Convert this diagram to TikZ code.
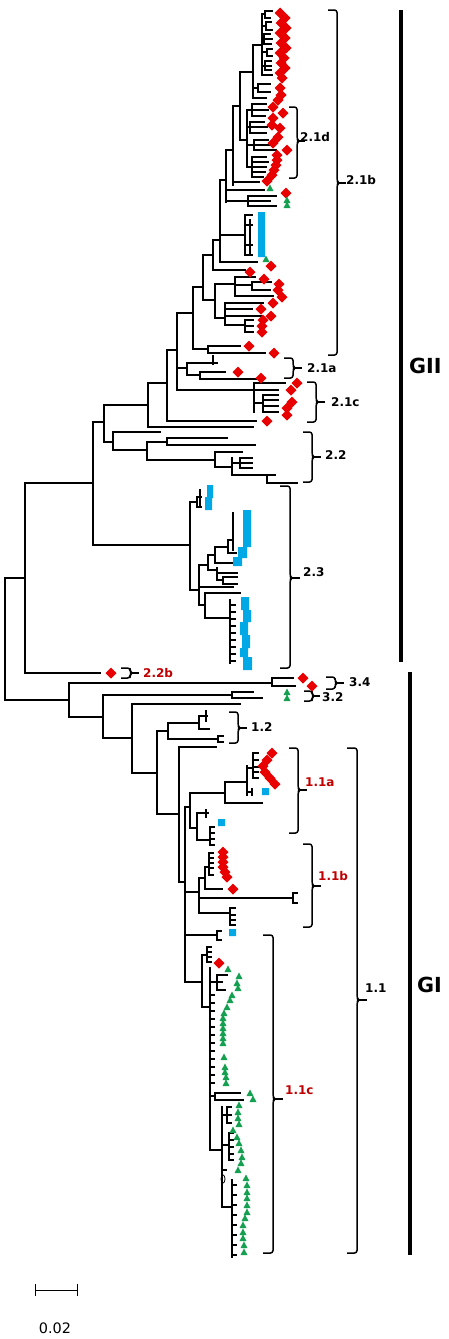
\documentclass[tikz,border=0pt]{standalone}
\usepackage{fontspec}
\setmainfont{DejaVu Sans}
\definecolor{dmdred}{RGB}{232,0,0}
\definecolor{sqblue}{RGB}{0,168,230}
\definecolor{trigreen}{RGB}{20,160,80}
\definecolor{labred}{RGB}{192,0,0}
% clade bracket: x, top, bottom, middle, stub
\newcommand{\cladebr}[5]{%
  \draw[brk] (#1-#5,#2) -- (#1,#2) -- (#1,#4-2) -- (#1+2,#4) -- (#1,#4+2) -- (#1,#3) -- (#1-#5,#3);
  \draw[brk] (#1+1,#4) -- (#1+#5,#4);}
\tikzset{
  tree/.style={line width=1.2pt, line cap=rect},
  brk/.style={line width=1.5pt, line join=round, rounded corners=2.5pt},
  gbar/.style={line width=3.5pt},
  cladelabel/.style={font=\bfseries\large, anchor=west, inner sep=0pt},
  redlabel/.style={cladelabel, text=labred},
  grouplabel/.style={font=\bfseries\huge, anchor=west, inner sep=0pt},
}
\begin{document}
\begin{tikzpicture}[x=1pt, y=-1pt]
  \useasboundingbox (0,0) rectangle (449,1339);
  % Clade labels
  \node[cladelabel] (l21b) at (346,180) {2.1b};
  \node[cladelabel] (l21d) at (300,137) {2.1d};
  \node[cladelabel] (l21a) at (307,368) {2.1a};
  \node[cladelabel] (l21c) at (331,402) {2.1c};
  \node[cladelabel] (l22) at (325,455) {2.2};
  \node[cladelabel] (l23) at (303,572) {2.3};
  \node[redlabel] (l22b) at (143,673) {2.2b};
  \node[cladelabel] (l34) at (349,682) {3.4};
  \node[cladelabel] (l32) at (322,697) {3.2};
  \node[cladelabel] (l12) at (251,727) {1.2};
  \node[redlabel] (l11a) at (305,782) {1.1a};
  \node[redlabel] (l11b) at (318,876) {1.1b};
  \node[redlabel] (l11c) at (285,1090) {1.1c};
  \node[cladelabel] (l11) at (365,988) {1.1};
  \node[grouplabel] (gii) at (409,366) {GII};
  \node[grouplabel] (gi) at (417,985) {GI};
  \node[font=\Large, inner sep=0pt] (scl) at (55,1328) {0.02};
  % Clade brackets
  \cladebr{337}{10}{355}{183}{9}
  \cladebr{297}{107}{178}{141}{8}
  \cladebr{293}{358}{378}{368}{9}
  \cladebr{316}{382}{422}{402}{9}
  \cladebr{312}{432}{482}{457}{9}
  \cladebr{290}{486}{668}{578}{10}
  \cladebr{130}{668}{678}{673}{9}
  \cladebr{335}{677}{689}{683}{9}
  \cladebr{312}{691}{701}{696}{8}
  \cladebr{238}{712}{743}{728}{9}
  \cladebr{298}{748}{833}{790}{9}
  \cladebr{312}{844}{927}{886}{9}
  \cladebr{273}{935}{1253}{1099}{10}
  \cladebr{357}{748}{1253}{1000}{10}
  % Genogroup bars
  \draw[gbar] (401,10) -- (401,662);
  \draw[gbar] (410,672) -- (410,1255);
  % Scale bar
  \draw[line width=1pt] (35,1290) -- (77,1290);
  \draw[line width=1pt] (35,1284) -- (35,1296);
  \draw[line width=1pt] (77,1284) -- (77,1296);
  % Backbone and GII ladder (vertical parts)
  \draw[tree] \foreach \px/\ya/\yb in {5/578/700, 25/483/673, 93/422/545, 104/405/442,
      148/383/427, 167/350/421, 177/313/390, 193/287/349, 203/255/300,
      213/240/270, 220/180/262, 226/150/202, 233/106/185, 240/72/140,
      253/45/98, 262/14/75} {(\px,\ya) -- (\px,\yb)};
  % Backbone and GII ladder (horizontal parts)
  \draw[tree] \foreach \xa/\xb/\py in {5/25/578, 5/69/700, 25/93/483, 25/100/673, 93/104/422,
      93/190/545, 104/148/405, 148/253/427, 148/167/383, 167/256/421,
      167/177/350, 177/193/313, 193/203/287, 203/213/255, 213/220/240,
      220/226/180, 226/233/150, 233/240/106, 240/253/72, 253/262/45} {(\xa,\py) -- (\xb,\py)};
  % 2.1b / 2.1d small clades
  \draw[tree] \foreach \px/\ya/\yb in {265/11/18, 266/22/30, 264/34/44, 267/49/56, 265/61/70,
      258/84/92, 247/110/167, 252/104/116, 250/122/133, 254/140/150,
      252/157/177, 248/196/206, 245/215/255, 250/220/253, 215/284/318,
      235/277/296, 252/282/290, 225/303/325, 245/320/332, 208/346/353,
      187/363/375, 213/356/364, 200/372/379, 254/383/412, 263/395/412} {(\px,\ya) -- (\px,\yb)};
  \draw[tree] \foreach \xa/\xb/\py in {262/265/14, 265/272/11, 265/270/18, 262/266/26,
      266/271/22, 266/272/30, 262/264/39, 264/270/34, 264/272/39, 264/271/44,
      262/267/52, 267/272/49, 267/272/56, 262/265/66, 265/271/61, 265/271/66,
      265/271/70, 262/272/75, 253/258/88, 258/270/84, 258/270/92, 253/266/98,
      240/247/140, 247/252/110, 252/266/104, 252/268/110, 252/265/116,
      247/250/127, 250/264/122, 250/267/127, 250/266/133, 247/254/145,
      254/268/140, 254/270/145, 254/276/150, 247/252/167, 252/266/157,
      252/268/162, 252/266/167, 252/265/172, 252/263/177, 233/259/182,
      226/264/190, 226/248/201, 248/276/196, 248/270/201, 248/276/206,
      220/245/235, 220/257/262, 213/245/270, 203/215/300, 215/235/284,
      235/255/277, 235/252/285, 252/271/282, 252/270/290, 235/273/296,
      215/225/318, 225/263/303, 225/252/309, 225/262/316, 225/245/325,
      245/253/320, 245/253/326, 245/253/332, 193/208/349, 208/240/346,
      208/265/353, 177/187/368, 187/217/363, 187/200/375, 200/225/372,
      200/260/379, 177/254/390, 254/285/383, 254/278/390, 254/263/403,
      263/278/395, 263/278/400, 263/278/406, 263/278/412,
      245/252/215, 245/252/225, 245/252/245, 245/252/255} {(\xa,\py) -- (\xb,\py)};
  % 2.2
  \draw[tree] \foreach \px/\ya/\yb in {113/432/450, 147/442/460, 167/438/445, 215/452/467,
      232/458/475, 240/458/468, 267/475/483} {(\px,\ya) -- (\px,\yb)};
  \draw[tree] \foreach \xa/\xb/\py in {104/113/442, 113/160/432, 113/147/450, 147/167/442,
      167/227/438, 167/255/445, 147/215/460, 215/242/452, 215/232/467,
      232/240/463, 240/252/458, 240/252/463, 240/252/468, 232/267/475,
      267/275/475, 267/297/483} {(\xa,\py) -- (\xb,\py)};
  % 2.3
  \draw[tree] \foreach \px/\ya/\yb in {190/502/590, 197/497/507, 200/490/505, 199/565/605,
      208/555/570, 215/547/563, 228/540/553, 217/568/580, 223/577/584,
      205/593/618, 230/600/663} {(\px,\ya) -- (\px,\yb)};
  \draw[tree] \foreach \xa/\xb/\py in {190/197/502, 197/201/497, 197/201/507, 190/199/590,
      199/208/565, 208/215/555, 215/228/547, 228/233/540, 228/236/553,
      215/238/563, 208/217/570, 217/237/573, 217/223/580, 223/237/577,
      223/237/584, 199/233/587, 199/205/605, 205/240/593, 205/230/618} {(\xa,\py) -- (\xb,\py)};
  \draw[tree] \foreach \py in {605,612,619,626,633,640,647,654,661} {(230,\py) -- (235,\py)};
  \draw[tree, line width=2pt] (233,513) -- (233,550);
  % GI
  \draw[tree] \foreach \px/\ya/\yb in {69/683/717, 272/678/686, 103/695/738, 232/692/698,
      132/704/773, 157/731/814, 168/723/739, 199/716/729, 206/711/721,
      218/736/742, 179/747/882, 185/807/982, 190/793/828, 225/782/803,
      247/766/795, 253/753/778, 252/789/795, 197/813/840, 206/810/817,
      210/827/845, 199/878/913, 205/867/889, 209/853/875, 293/893/903,
      230/908/925, 217/931/940, 202/955/1007, 207/947/962, 210/968/1150,
      217/975/990, 215/1093/1100, 222/1107/1207, 227/1107/1123,
      229/1133/1160, 232/1180/1257} {(\px,\ya) -- (\px,\yb)};
  \draw[tree] \foreach \xa/\xb/\py in {69/272/683, 272/293/678, 272/295/686, 69/103/717,
      103/232/695, 232/253/692, 232/262/698, 103/132/738, 132/240/704,
      132/157/773, 157/168/731, 168/199/723, 199/207/716, 199/209/729,
      168/218/739, 218/223/736, 218/223/742, 157/179/814, 179/216/747,
      179/185/882, 185/190/807, 190/225/793, 225/247/782, 247/253/768,
      247/252/792, 225/262/803, 190/197/828, 197/208/813, 197/210/840,
      185/199/892, 199/205/878, 205/209/867, 205/222/889, 199/293/898,
      293/297/893, 293/297/903, 199/230/913, 185/217/935, 217/221/931,
      217/221/940, 185/202/982, 202/207/955, 202/210/1007, 210/217/982,
      217/227/975, 217/222/982, 217/225/990, 210/215/1096, 215/240/1093,
      215/243/1100, 210/222/1150, 222/227/1115, 222/229/1145, 222/226/1170,
      222/232/1207} {(\xa,\py) -- (\xb,\py)};
  % short tip ticks
  \draw[tree] \foreach \xa/\xb/\py in {253/258/753, 253/258/760, 253/258/767, 253/258/772,
      253/258/778, 210/214/827, 210/214/833, 210/214/839, 210/214/845,
      209/213/853, 209/213/858, 209/213/863, 209/213/868, 209/213/875,
      230/235/908, 230/235/915, 230/235/920, 230/235/925, 207/211/947,
      207/211/952, 207/211/957, 207/211/962, 227/231/1107, 227/231/1115,
      227/231/1123, 229/233/1133, 229/233/1140, 229/233/1147, 229/233/1154,
      229/233/1160} {(\xa,\py) -- (\xb,\py)};
  \draw[tree] \foreach \py in {995,1003,1011,1019,1027,1035,1043,1051,1059,1067,1075,1083} {(210,\py) -- (214,\py)};
  \draw[tree] \foreach \py in {1185,1195,1205,1215,1225,1235,1245,1255} {(232,\py) -- (236,\py)};
  \draw[tree, line width=2pt] (210,1047) -- (210,1150);
  \draw[tree, line width=2pt] (232,1190) -- (232,1257);
  \draw[line width=0.8pt] (223,1179) ellipse (2 and 4);
  % blue bars and squares
  \fill[sqblue] \foreach \xa/\ya/\xb/\yb in {258/212/265/257, 207/485/213/498,
      205/497/212/510, 243/510/251/547, 238/547/247/558, 233/557/242/566,
      241/597/249/610, 243/610/251/622, 240/622/248/635, 242/635/250/648,
      240/648/248/657, 243/657/252/670, 262/788/269/795, 218/819/225/826,
      229/929/236/936} {(\xa,\ya) rectangle (\xb,\yb)};
  % red diamonds
  \fill[dmdred] \foreach \px/\py in {280/13, 285/18, 281/23, 286/28, 280/33, 285/38, 281/43,
      286/48, 280/53, 284/58, 281/63, 285/68, 280/73, 282/78, 280/88, 281/95,
      278/100, 273/107, 283/113, 273/118, 272/125, 280/128, 278/137, 273/143,
      287/150, 277/155, 277/160, 276/165, 274/170, 272/175, 267/181, 286/193,
      271/266, 250/272, 264/279, 279/284, 278/290, 282/297, 273/303, 261/309,
      271/316, 263/320, 262/326, 262/332, 249/346, 274/353, 238/372, 261/378,
      297/383, 291/390, 292/402, 287/408, 287/415, 267/421, 111/673, 303/678,
      312/686, 272/753, 267/760, 263/766, 265/772, 270/778, 275/784, 223/852,
      223/857, 223/862, 223/867, 225/872, 227/877, 233/889, 219/963}
    {(\px,\py-5.5) -- (\px+5.5,\py) -- (\px,\py+5.5) -- (\px-5.5,\py) -- cycle};
  % green triangles
  \fill[trigreen] \foreach \px/\py in {270/188, 287/200, 287/205, 266/259, 287/692, 287/698,
      228/969, 239/976, 237/983, 238/988, 232/995, 230/1000, 227/1007,
      224/1013, 223/1018, 223/1023, 223/1028, 223/1033, 223/1038, 223/1043,
      224/1057, 225/1067, 225/1072, 226/1077, 226/1083, 250/1093, 253/1099,
      239/1105, 238/1112, 238/1118, 239/1124, 233/1130, 237/1137, 239/1143,
      241/1150, 242/1157, 241/1163, 238/1170, 246/1178, 247/1185, 247/1192,
      247/1198, 247/1205, 247/1212, 245/1218, 243/1225, 243/1232, 243/1238,
      244/1245, 244/1252}
    {(\px-3.5,\py+3) -- (\px+3.5,\py+3) -- (\px,\py-3.5) -- cycle};
\end{tikzpicture}
\end{document}
